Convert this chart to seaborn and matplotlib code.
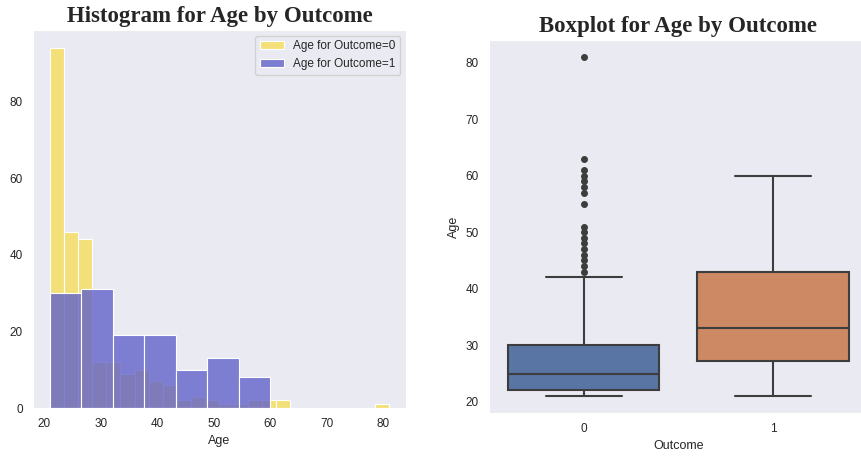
import numpy as np
import pandas as pd
import seaborn as sns
import matplotlib.pyplot as plt

sns.set_style("dark")
plt.rcParams["font.family"] = ["Liberation Sans", "DejaVu Sans"]

# Ages (value, count), Outcome = 0
age_values_0 = [21, 22, 23, 24, 25, 26, 27, 28, 29, 30, 31, 32, 33, 34, 35, 36, 37, 38,
                39, 40, 41, 42, 43, 44, 45, 46, 47, 48, 49, 50, 51, 55, 57, 58, 59,
                60, 61, 63, 81]
age_counts_0 = [30, 40, 24, 22, 24, 16, 14, 14, 5, 7, 4, 4, 4, 5, 4, 4, 3, 3,
                4, 3, 3, 2, 1, 1, 1, 1, 1, 1, 1, 1, 1, 1, 1, 1, 1,
                1, 1, 1, 1]

# Ages (value, count), Outcome = 1
age_values_1 = [21, 22, 23, 24, 25, 26, 27, 28, 29, 30, 31, 32, 33, 34, 35, 36, 37,
                38, 39, 40, 41, 42, 43, 44, 45, 46, 47, 48, 49, 50, 51, 52, 53, 54,
                55, 56, 57, 58, 59, 60]
age_counts_1 = [4, 5, 5, 5, 6, 5, 3, 6, 6, 5, 6, 5, 5, 4, 3, 4, 3,
                3, 3, 4, 3, 3, 3, 2, 3, 2, 1, 2, 2, 3, 2, 2, 2, 2,
                2, 1, 2, 1, 1, 1]

outcomes = ["0", "1"]
bins_per_outcome = [24, 7]
hist_colors = ["gold", "#6262ca"]
hist_alphas = [0.5, 0.8]
legend_labels = ["Age for Outcome=0", "Age for Outcome=1"]

age0 = np.repeat(age_values_0, age_counts_0)
age1 = np.repeat(age_values_1, age_counts_1)
df = pd.DataFrame({
    "Outcome": [outcomes[0]] * len(age0) + [outcomes[1]] * len(age1),
    "Age": np.concatenate([age0, age1]),
})

fig = plt.figure(figsize=(8.62, 4.59), dpi=100)
ax1 = fig.add_axes([0.038, 0.111, 0.433, 0.824])
ax2 = fig.add_axes([0.567, 0.100, 0.440, 0.813])

title_font = dict(family="Liberation Serif", weight="bold", size=16.5)

for ages, nb, col, al, lab in zip([age0, age1], bins_per_outcome, hist_colors,
                                  hist_alphas, legend_labels):
    sns.histplot(x=ages, bins=nb, color=col, alpha=al, edgecolor="white",
                 linewidth=0.8, label=lab, ax=ax1)
ax1.legend(loc="upper right", fontsize=8.5, frameon=True)
ax1.set_ylabel("")
ax1.set_xlabel("Age", fontsize=9)
ax1.tick_params(labelsize=8.5)
ax1.set_title("Histogram for Age by Outcome", fontdict=title_font, pad=6)

sns.boxplot(data=df, x="Outcome", y="Age", hue="Outcome", order=outcomes,
            hue_order=outcomes, palette=["#4c72b0", "#dd8452"], legend=False,
            linewidth=1.5, linecolor="#3d3d3d",
            flierprops=dict(marker="o", markerfacecolor="#3d3d3d",
                            markeredgecolor="#3d3d3d", markersize=4),
            ax=ax2)
ax2.set_xlabel("Outcome", fontsize=9)
ax2.set_ylabel("Age", fontsize=9)
ax2.tick_params(labelsize=8.5)
ax2.set_title("Boxplot for Age by Outcome", fontdict=title_font, pad=6)

fig.savefig("out.png", dpi=100)
